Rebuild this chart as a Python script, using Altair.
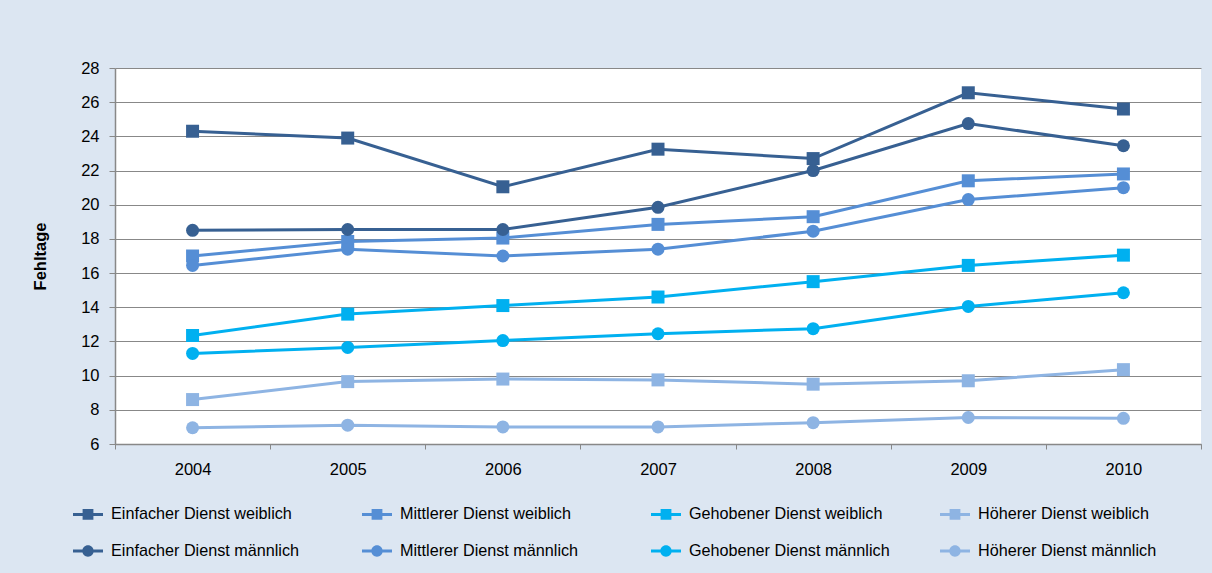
import altair as alt
import pandas as pd

years = ["2004", "2005", "2006", "2007", "2008", "2009", "2010"]

series_names = [
    "Einfacher Dienst weiblich", "Mittlerer Dienst weiblich",
    "Gehobener Dienst weiblich", "Höherer Dienst weiblich",
    "Einfacher Dienst männlich", "Mittlerer Dienst männlich",
    "Gehobener Dienst männlich", "Höherer Dienst männlich",
]

einf_w = [24.3, 23.9, 21.05, 23.25, 22.7, 26.55, 25.6]
mitt_w = [17.0, 17.85, 18.05, 18.85, 19.3, 21.4, 21.8]
geh_w = [12.35, 13.6, 14.1, 14.6, 15.5, 16.45, 17.05]
hoe_w = [8.6, 9.65, 9.8, 9.75, 9.5, 9.7, 10.35]
einf_m = [18.5, 18.55, 18.55, 19.85, 22.0, 24.75, 23.45]
mitt_m = [16.45, 17.4, 17.0, 17.4, 18.45, 20.3, 21.0]
geh_m = [11.3, 11.65, 12.05, 12.45, 12.75, 14.05, 14.85]
hoe_m = [6.95, 7.1, 7.0, 7.0, 7.25, 7.55, 7.5]

series_values = [einf_w, mitt_w, geh_w, hoe_w, einf_m, mitt_m, geh_m, hoe_m]
series_colors = ["#376092", "#558ED5", "#00B0F0", "#8EB4E3",
                 "#376092", "#558ED5", "#00B0F0", "#8EB4E3"]
series_marker = ["square"] * 4 + ["circle"] * 4

rows = []
for name, vals, mk in zip(series_names, series_values, series_marker):
    for yr, v in zip(years, vals):
        rows.append({"Jahr": yr, "Fehltage": v, "Reihe": name, "Marker": mk})
df = pd.DataFrame(rows)

SQ_PATH = "M-1,-0.1H1V0.1H-1Z M-0.36,-0.36H0.36V0.36H-0.36Z"
CI_PATH = "M-1,-0.1H1V0.1H-1Z M0.38,0A0.38,0.38 0 1,1 -0.38,0A0.38,0.38 0 1,1 0.38,0Z"
legend_shapes = [SQ_PATH if m == "square" else CI_PATH for m in series_marker]

FONT = "Liberation Sans"
GRID = "#888888"
TICK_FS = 16.5

x_enc = alt.X(
    "Jahr:N",
    bandPosition=0.5,
    scale=alt.Scale(type="band", domain=years, paddingInner=0, paddingOuter=0),
    axis=alt.Axis(
        title=None, tickBand="extent", grid=False, labelAngle=0,
        labelFont=FONT, labelFontSize=TICK_FS, labelColor="#000000",
        labelPadding=12, tickSize=5, tickColor=GRID, domainColor=GRID,
        domainWidth=1.5, labelBaseline="top",
    ),
)
y_enc = alt.Y(
    "Fehltage:Q",
    scale=alt.Scale(domain=[6, 28], nice=False, zero=False),
    axis=alt.Axis(
        title="Fehltage", values=list(range(6, 29, 2)), grid=True,
        gridColor=GRID, gridWidth=1, domainColor=GRID, domainWidth=1.5,
        tickColor=GRID, tickSize=6, labelFont=FONT, labelFontSize=TICK_FS,
        labelColor="#000000", labelPadding=10, titleFont=FONT,
        titleFontSize=16.5, titleFontWeight="bold", titleColor="#000000",
        titlePadding=32,
    ),
)
color_scale = alt.Scale(domain=series_names, range=series_colors)

legend_props = dict(
    title=None, orient="none", legendX=-42, legendY=431, columns=4,
    direction="horizontal", gridAlign="all", columnPadding=50, rowPadding=13,
    symbolSize=900, symbolStrokeWidth=0, symbolOpacity=1, labelOffset=8,
    labelFont=FONT, labelFontSize=16.2, labelColor="#000000", labelLimit=400,
)

legend_layer = alt.Chart(df).mark_point(filled=True).encode(
    x=x_enc, y=y_enc,
    color=alt.Color("Reihe:N", scale=color_scale, legend=alt.Legend(**legend_props)),
    shape=alt.Shape("Reihe:N", scale=alt.Scale(domain=series_names, range=legend_shapes),
                    legend=alt.Legend(**legend_props)),
).transform_filter("false")

lines = alt.Chart(df).mark_line(strokeWidth=3).encode(
    x=x_enc, y=y_enc,
    color=alt.Color("Reihe:N", scale=color_scale, legend=None),
    detail="Reihe:N",
)

squares = alt.Chart(df).transform_filter(alt.datum.Marker == "square").mark_square(
    size=169, opacity=1
).encode(
    x=x_enc, y=y_enc,
    color=alt.Color("Reihe:N", scale=color_scale, legend=None),
)

circles = alt.Chart(df).transform_filter(alt.datum.Marker == "circle").mark_circle(
    size=169, opacity=1
).encode(
    x=x_enc, y=y_enc,
    color=alt.Color("Reihe:N", scale=color_scale, legend=None),
)

chart = alt.layer(legend_layer, lines, squares, circles).properties(
    width=1086, height=376,
    background="#DCE6F2",
    padding={"left": 115, "top": 68, "right": 11, "bottom": 129},
    autosize=alt.AutoSizeParams(type="none"),
).configure_view(
    stroke=None, fill="#FFFFFF"
)

chart.save("out.html", embed_options={"renderer": "svg", "actions": False})
